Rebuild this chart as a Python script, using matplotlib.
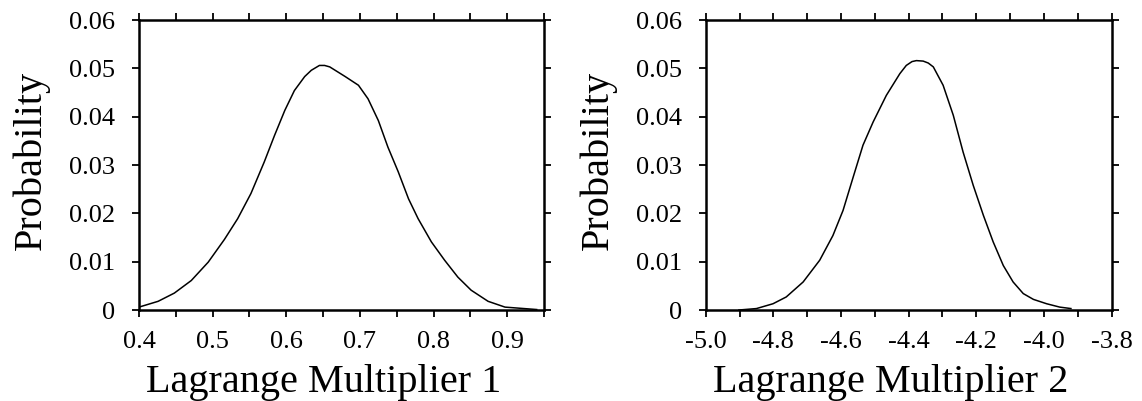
import matplotlib
matplotlib.use("Agg")
import matplotlib.pyplot as plt
import numpy as np
from matplotlib.ticker import MultipleLocator

plt.rcParams['font.family'] = ['Liberation Serif', 'DejaVu Serif']

lm1_x = [0.400, 0.426, 0.448, 0.471, 0.494, 0.516, 0.534, 0.552, 0.570, 0.584,
         0.598, 0.611, 0.625, 0.634, 0.645, 0.652, 0.659, 0.680, 0.689, 0.698,
         0.711, 0.725, 0.738, 0.752, 0.766, 0.779, 0.797, 0.815, 0.833, 0.851,
         0.874, 0.897, 0.940]
lm1_p = [0.0006, 0.0018, 0.0035, 0.0061, 0.0099, 0.0146, 0.0189, 0.0241, 0.0306, 0.0361,
         0.0413, 0.0454, 0.0483, 0.0496, 0.0506, 0.0506, 0.0503, 0.0483, 0.0474, 0.0465,
         0.0437, 0.0392, 0.0337, 0.0286, 0.0230, 0.0189, 0.0141, 0.0103, 0.0068, 0.0041,
         0.0018, 0.0006, 0.0001]

lm2_x = [-4.902, -4.850, -4.801, -4.762, -4.712, -4.663, -4.624, -4.594, -4.564, -4.535,
         -4.505, -4.466, -4.426, -4.407, -4.390, -4.377, -4.357, -4.342, -4.327, -4.298,
         -4.268, -4.239, -4.209, -4.179, -4.150, -4.120, -4.091, -4.061, -4.031, -3.992,
         -3.953, -3.920]
lm2_p = [0.0000, 0.0003, 0.0013, 0.0027, 0.0058, 0.0103, 0.0154, 0.0206, 0.0275, 0.0341,
         0.0389, 0.0444, 0.0489, 0.0506, 0.0514, 0.0516, 0.0515, 0.0511, 0.0503, 0.0465,
         0.0403, 0.0327, 0.0258, 0.0196, 0.0141, 0.0092, 0.0058, 0.0034, 0.0022, 0.0013,
         0.0006, 0.0003]

y_ticks = [0, 0.01, 0.02, 0.03, 0.04, 0.05, 0.06]
y_labels = ['0', '0.01', '0.02', '0.03', '0.04', '0.05', '0.06']
x1_ticks = [0.4, 0.5, 0.6, 0.7, 0.8, 0.9]
x1_labels = ['0.4', '0.5', '0.6', '0.7', '0.8', '0.9']
x2_ticks = [-5.0, -4.8, -4.6, -4.4, -4.2, -4.0, -3.8]
x2_labels = ['-5.0', '-4.8', '-4.6', '-4.4', '-4.2', '-4.0', '-3.8']

fontsize = 19
labelsize = 29

fig = plt.figure(figsize=(11.42, 4.01), dpi=100)
ax1 = fig.add_axes([0.1217, 0.2269, 0.3547, 0.7232])
ax2 = fig.add_axes([0.6180, 0.2269, 0.3553, 0.7232])

panels = [
    (ax1, lm1_x, lm1_p, (0.4, 0.95), x1_ticks, x1_labels, 0.05, 'Lagrange Multiplier 1'),
    (ax2, lm2_x, lm2_p, (-5.0, -3.8), x2_ticks, x2_labels, 0.1, 'Lagrange Multiplier 2'),
]

for ax, xs, ps, xlim, xt, xl, minor, xlabel in panels:
    ax.plot(xs, ps, color='black', lw=1.1, solid_joinstyle='round')
    ax.set_xlim(*xlim)
    ax.set_ylim(0, 0.06)
    ax.set_xticks(xt)
    ax.set_xticklabels(xl, fontsize=fontsize)
    ax.xaxis.set_minor_locator(MultipleLocator(minor))
    ax.set_yticks(y_ticks)
    ax.set_yticklabels(y_labels, fontsize=fontsize)
    ax.tick_params(which='both', direction='out', top=True, right=True,
                   length=5, width=1.3, color='black')
    ax.tick_params(axis='x', which='major', pad=10)
    ax.tick_params(axis='y', which='major', pad=12)
    for s in ax.spines.values():
        s.set_linewidth(1.8)
    ax.set_xlabel(xlabel, fontsize=labelsize)
    ax.set_ylabel('Probability', fontsize=labelsize)
    ax.xaxis.set_label_coords(0.455, -0.185)
    ax.yaxis.set_label_coords(-0.22, 0.515)

fig.savefig('out.png', dpi=100)
